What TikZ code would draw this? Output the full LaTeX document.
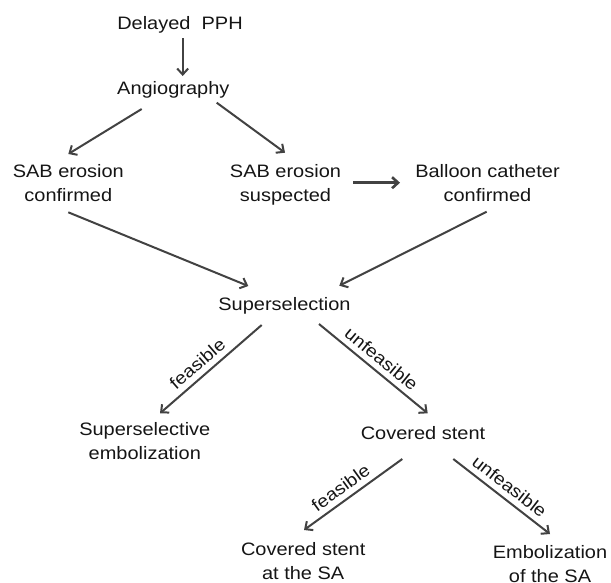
\documentclass[tikz,border=0pt]{standalone}
\usepackage{fontspec}
\setmainfont{Liberation Sans}[FakeStretch=1.11]
\usetikzlibrary{arrows.meta}
\definecolor{arrowgray}{HTML}{424242}
\definecolor{textgray}{HTML}{151515}

\begin{document}
\begin{tikzpicture}[
    txt/.style={align=center, inner sep=0pt, text=textgray, font=\fontsize{18pt}{24.4pt}\selectfont},
    arr/.style={-{Straight Barb[length=6pt,width=11pt]}, line width=2pt, draw=arrowgray},
    cond/.style={pos=0.55, sloped, above, inner sep=5.5pt, text=textgray, font=\fontsize{17.5pt}{19pt}\selectfont}]
    \useasboundingbox (0,0) rectangle (611pt,-582pt);

    \node[txt] (delayed) at (180pt,-24.65pt) {Delayed\ \ PPH};
    \node[txt, below of=delayed, node distance=65pt, xshift=-6.7pt] (angio) {Angiography};
    \node[txt, below of=angio, node distance=93.4pt, xshift=-105pt] (confirmed) {SAB erosion\\confirmed};
    \node[txt, below of=angio, node distance=95.35pt, xshift=112.2pt] (suspected) {SAB erosion\\suspected};
    \node[txt, right of=suspected, node distance=202pt, yshift=1.95pt] (balloon) {Balloon catheter\\confirmed};
    \node[txt, below of=suspected, node distance=120.35pt, xshift=-1pt] (supersel) {Superselection};
    \node[txt, below of=supersel, node distance=135.95pt, xshift=-139.7pt] (embol) {Superselective\\embolization};
    \node[txt, below of=supersel, node distance=127.4pt, xshift=138.5pt] (stent) {Covered stent};
    \node[txt, below of=stent, node distance=128.6pt, xshift=-119.8pt] (stentsa) {Covered stent\\at the SA};
    \node[txt, below of=stent, node distance=131.2pt, xshift=127pt] (embolsa) {Embolization\\of the SA};

    \draw[arr] ([shift={(2.7pt,-13.65pt)}]delayed.center) -- ([shift={(9.4pt,13.65pt)}]angio.center);
    \draw[arr] ([shift={(-31.6pt,-19.35pt)}]angio.center) -- ([shift={(0pt,29.05pt)}]confirmed.center);
    \draw[arr] ([shift={(43.4pt,-13.05pt)}]angio.center) -- ([shift={(-0.5pt,32.3pt)}]suspected.center);
    \draw[arr, line width=2.6pt] ([shift={(67.8pt,2.3pt)}]suspected.center) -- ([shift={(-87.5pt,0.35pt)}]balloon.center);
    \draw[arr] ([shift={(0pt,-29.25pt)}]confirmed.center) -- ([shift={(-36.2pt,19.35pt)}]supersel.center);
    \draw[arr] ([shift={(-0.8pt,-28.65pt)}]balloon.center) -- ([shift={(54.8pt,19.65pt)}]supersel.center);

    % branches with conditions
    \draw[arr] ([shift={(-22.8pt,-19.65pt)}]supersel.center) -- node[cond] {feasible} ([shift={(15.2pt,28pt)}]embol.center);
    \draw[arr] ([shift={(34.5pt,-18.65pt)}]supersel.center) -- node[cond, pos=0.5] {unfeasible} ([shift={(4.7pt,19.45pt)}]stent.center);
    \draw[arr] ([shift={(-20.7pt,-26.25pt)}]stent.center) -- node[cond] {feasible} ([shift={(0.8pt,31.35pt)}]stentsa.center);
    \draw[arr] ([shift={(30.3pt,-26.25pt)}]stent.center) -- node[cond, pos=0.5] {unfeasible} ([shift={(0pt,29.95pt)}]embolsa.center);
\end{tikzpicture}
\end{document}
